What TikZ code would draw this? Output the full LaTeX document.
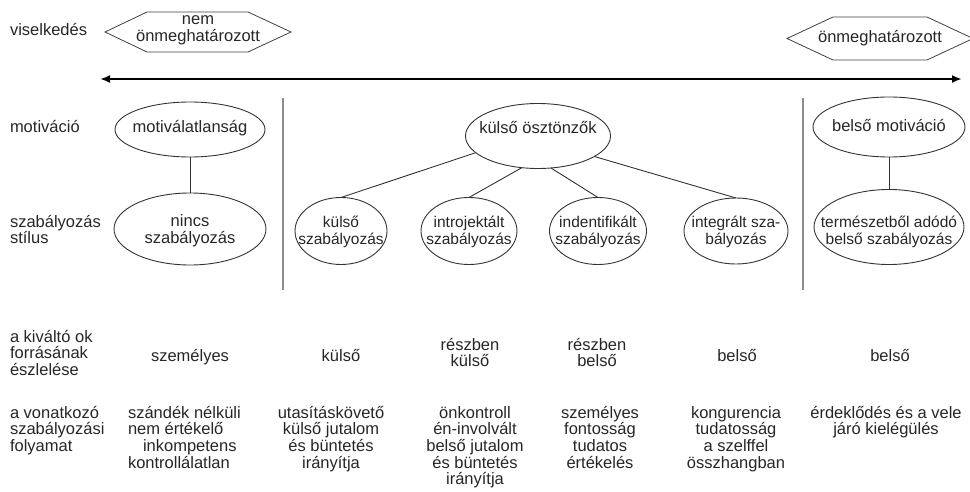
\documentclass[tikz,border=0pt]{standalone}
\usepackage{fontspec}
\setmainfont{Liberation Sans}
\usetikzlibrary{shapes.geometric,arrows.meta,calc}
\newcommand\mystrut{\rule{0pt}{16pt}}
\begin{document}
\begin{tikzpicture}[x=1pt,y=-1pt,
  every node/.style={font=\fontsize{16.5}{16.7}\selectfont, inner sep=0pt, outer sep=0pt, text=black!85},
  lbl/.style={anchor=north west, align=left},
  txt/.style={anchor=north, align=center},
  ell/.style={ellipse, draw=black!80, line width=0.9pt},
  etxt/.style={align=center},
  stxt/.style={align=center, font=\fontsize{15.5}{16.7}\selectfont},
  conn/.style={draw=black!80, line width=0.9pt},
  sep/.style={draw=black!45, line width=1.4pt},
  hexa/.style={draw=black!75, line width=0.8pt},
  axis/.style={line width=2.2pt, {Latex[length=10pt,width=8pt]}-{Latex[length=10pt,width=8pt]}}]
\useasboundingbox (0,0) rectangle (970,492);

% row labels
\node[lbl] (vis) at (10,20) {\mystrut viselkedés};
\node[lbl] (motl) at (10,117) {\mystrut motiváció};
\node[lbl] (szl) at (10,211) {\mystrut szabályozás\\stílus};
\node[lbl] (r1l) at (10,326) {\mystrut a kiváltó ok\\forrásának\\észlelése};
\node[lbl] (r2l) at (10,402) {\mystrut a vonatkozó\\szabályozási\\folyamat};

% hexagons
\coordinate (h1c) at (198,32);
\draw[hexa] (h1c) ++(-93,0) -- ++(42,-20) -- ++(101,0) -- ++(43,20) -- ++(-43,20) -- ++(-101,0) -- cycle;
\node[txt] (h1) at (198,9) {\mystrut nem\\önmeghatározott};
\coordinate (h2c) at (880,38.5);
\draw[hexa] (h2c) ++(-93,0) -- ++(46,-21.5) -- ++(94,0) -- ++(46,21.5) -- ++(-46,21.5) -- ++(-94,0) -- cycle;
\node[txt] (h2) at (880,27) {\mystrut önmeghatározott};

% axis arrow
\coordinate (al) at (100,79);
\coordinate (ar) at (962,79);
\draw[axis] (al) -- (ar);

% separators
\coordinate (s1t) at (283,98);
\coordinate (s1b) at (283,290);
\coordinate (s2t) at (803,98);
\coordinate (s2b) at (803,290);
\draw[sep] (s1t) -- (s1b);
\draw[sep] (s2t) -- (s2b);

% ellipses
\node[ell, minimum width=150pt, minimum height=55pt] (mot) at (190,129.5) {};
\node[etxt] (mott) at (190,128.5) {motiválatlanság};
\node[ell, minimum width=152pt, minimum height=72pt] (nsz) at (190,229) {};
\node[etxt] (nszt) at (190,231) {nincs\\szabályozás};
\node[ell, minimum width=145pt, minimum height=65pt] (kos) at (538,136) {};
\node[etxt] (kost) at (538,128) {külső ösztönzők};
\node[ell, minimum width=92pt, minimum height=67pt] (ksz) at (341,231) {};
\node[stxt] (kszt) at (341,232) {külső\\szabályozás};
\node[ell, minimum width=96pt, minimum height=67pt] (isz) at (469,231) {};
\node[stxt] (iszt) at (469,232) {introjektált\\szabályozás};
\node[ell, minimum width=97pt, minimum height=67pt] (dsz) at (598,231) {};
\node[stxt] (dszt) at (598,232) {indentifikált\\szabályozás};
\node[ell, minimum width=104pt, minimum height=66pt] (gsz) at (736,231) {};
\node[stxt] (gszt) at (736,232) {integrált sza-\\bályozás};
\node[ell, minimum width=152pt, minimum height=60pt] (bmo) at (889,127) {};
\node[etxt] (bmot) at (889,125.5) {belső motiváció};
\node[ell, minimum width=150pt, minimum height=75pt] (tsz) at (889,227) {};
\node[stxt] (tszt) at (889,232) {természetből adódó\\belső szabályozás};

% connectors
\draw[conn] (mot) -- (nsz);
\draw[conn] (bmo) -- (tsz);
\draw[conn] (kos.195) -- (ksz.north);
\draw[conn] (kos.243) -- (isz.north);
\draw[conn] (kos.292) -- (dsz.north);
\draw[conn] (kos.340) -- (gsz.north);

% row 1
\node[txt] (r1c1) at (190,345) {\mystrut személyes};
\node[txt] (r1c2) at (341,345) {\mystrut külső};
\node[txt] (r1c3) at (470,334) {\mystrut részben\\külső};
\node[txt] (r1c4) at (597,334) {\mystrut részben\\belső};
\node[txt] (r1c5) at (737,345) {\mystrut belső};
\node[txt] (r1c6) at (890,345) {\mystrut belső};

% row 2
\node[lbl] (r2c1) at (128,402) {\mystrut szándék nélküli\\nem értékelő\\\hspace*{15pt}inkompetens\\kontrollálatlan};
\node[txt] (r2c2) at (331,402) {\mystrut utasításkövető\\külső jutalom\\és büntetés\\irányítja};
\node[txt] (r2c3) at (475,402) {\mystrut önkontroll\\én-involvált\\belső jutalom\\és büntetés\\irányítja};
\node[txt] (r2c4) at (600,402) {\mystrut személyes\\fontosság\\tudatos\\értékelés};
\node[txt] (r2c5) at (736,402) {\mystrut kongurencia\\tudatosság\\a szelffel\\összhangban};
\node[txt] (r2c6) at (886,402) {\mystrut érdeklődés és a vele\\járó kielégülés};
\end{tikzpicture}
\end{document}
